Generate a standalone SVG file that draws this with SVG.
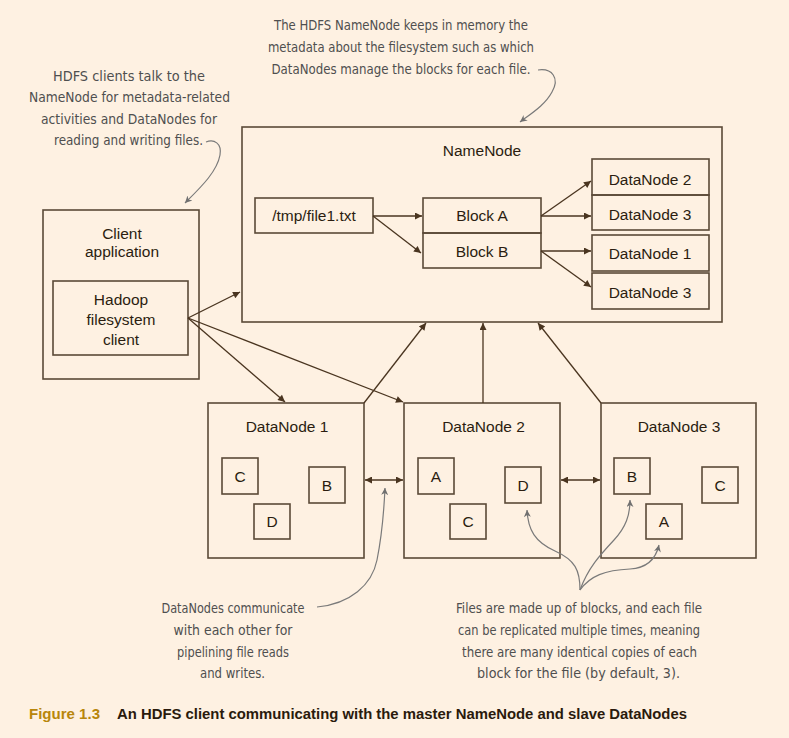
<svg xmlns="http://www.w3.org/2000/svg" width="789" height="738" viewBox="0 0 789 738">
<defs>
<style>
.box{fill:none;stroke:#5b4a38;stroke-width:1.6}
.lbl{font-family:"Liberation Sans",Arial,sans-serif;font-size:15.5px;fill:#2b1d10;text-anchor:middle}
.conn{fill:none;stroke:#4a3520;stroke-width:1.3}
.note{fill:none;stroke:#7a7a7a;stroke-width:1.2}
.hand{font-family:"Liberation Sans Narrow","DejaVu Sans Condensed","Liberation Sans",sans-serif;font-size:13.5px;fill:#4f4f4f;text-anchor:middle}
.cap{font-family:"Liberation Sans",Arial,sans-serif;font-size:14.5px;font-weight:bold}
</style>
<marker id="ah" viewBox="0 0 10 10" refX="10" refY="5" markerWidth="9" markerHeight="7" markerUnits="userSpaceOnUse" orient="auto-start-reverse">
<path d="M0,0 L10,5 L0,10 z" fill="#4a3520"/>
</marker>
<marker id="gh" viewBox="0 0 10 10" refX="10" refY="5" markerWidth="9" markerHeight="7" markerUnits="userSpaceOnUse" orient="auto">
<path d="M0,0 L10,5 L0,10 L3,5 z" fill="#707070"/>
</marker>
</defs>
<rect width="789" height="738" fill="#fef1e2"/>

<g id="namenode">
<rect class="box" x="242" y="127" width="480" height="195"/>
<text class="lbl" x="482" y="156">NameNode</text>
</g>
<g id="file1">
<rect class="box" x="255" y="198" width="118" height="35"/>
<text class="lbl" x="314" y="221">/tmp/file1.txt</text>
</g>
<g id="blockA">
<rect class="box" x="423" y="198" width="118" height="35"/>
<text class="lbl" x="482" y="221">Block A</text>
</g>
<g id="blockB">
<rect class="box" x="423" y="233" width="118" height="35"/>
<text class="lbl" x="482" y="257">Block B</text>
</g>
<g id="nn-dn2">
<rect class="box" x="592" y="159" width="117" height="36"/>
<text class="lbl" x="650" y="184.5">DataNode 2</text>
</g>
<g id="nn-dn3a">
<rect class="box" x="592" y="195" width="117" height="35"/>
<text class="lbl" x="650" y="219.5">DataNode 3</text>
</g>
<g id="nn-dn1">
<rect class="box" x="592" y="235" width="117" height="36"/>
<text class="lbl" x="650" y="259">DataNode 1</text>
</g>
<g id="nn-dn3b">
<rect class="box" x="592" y="273" width="117" height="36"/>
<text class="lbl" x="650" y="297.5">DataNode 3</text>
</g>

<g id="client">
<rect class="box" x="43" y="210" width="156" height="169"/>
<text class="lbl" x="122" y="238.5">Client</text>
<text class="lbl" x="122" y="257">application</text>
</g>
<g id="hadoop-client">
<rect class="box" x="53" y="281" width="135" height="74"/>
<text class="lbl" x="121" y="304.5">Hadoop</text>
<text class="lbl" x="121" y="324.5">filesystem</text>
<text class="lbl" x="121" y="344.5">client</text>
</g>

<g id="datanode1">
<rect class="box" x="208" y="403" width="156" height="155"/>
<text class="lbl" x="287" y="431.5">DataNode 1</text>
<rect class="box" x="222" y="458" width="36" height="36"/>
<text class="lbl" x="240" y="481.5">C</text>
<rect class="box" x="309" y="467" width="36" height="36"/>
<text class="lbl" x="327" y="490.5">B</text>
<rect class="box" x="254" y="504" width="36" height="35"/>
<text class="lbl" x="272" y="527">D</text>
</g>
<g id="datanode2">
<rect class="box" x="404" y="403" width="156" height="155"/>
<text class="lbl" x="483.5" y="431.5">DataNode 2</text>
<rect class="box" x="418" y="458" width="36" height="36"/>
<text class="lbl" x="436" y="481.5">A</text>
<rect class="box" x="505" y="467" width="36" height="36"/>
<text class="lbl" x="523" y="490.5">D</text>
<rect class="box" x="450" y="504" width="36" height="35"/>
<text class="lbl" x="468" y="527">C</text>
</g>
<g id="datanode3">
<rect class="box" x="601" y="403" width="155" height="155"/>
<text class="lbl" x="679" y="431.5">DataNode 3</text>
<rect class="box" x="614" y="458" width="36" height="36"/>
<text class="lbl" x="632" y="481.5">B</text>
<rect class="box" x="702" y="467" width="36" height="36"/>
<text class="lbl" x="720" y="490.5">C</text>
<rect class="box" x="646" y="504" width="36" height="35"/>
<text class="lbl" x="664" y="527">A</text>
</g>

<g id="connectors">
<line class="conn" x1="373" y1="216" x2="422" y2="216" marker-end="url(#ah)"/>
<line class="conn" x1="373" y1="216" x2="421" y2="253" marker-end="url(#ah)"/>
<line class="conn" x1="541" y1="216" x2="591" y2="181" marker-end="url(#ah)"/>
<line class="conn" x1="541" y1="216" x2="591" y2="216" marker-end="url(#ah)"/>
<line class="conn" x1="541" y1="251" x2="591" y2="251" marker-end="url(#ah)"/>
<line class="conn" x1="541" y1="251" x2="591" y2="287" marker-end="url(#ah)"/>
<line class="conn" x1="188" y1="318" x2="240" y2="292" marker-end="url(#ah)"/>
<line class="conn" x1="188" y1="318" x2="285" y2="402" marker-end="url(#ah)"/>
<line class="conn" x1="188" y1="318" x2="403" y2="402" marker-end="url(#ah)"/>
<line class="conn" x1="364" y1="403" x2="426" y2="323" marker-end="url(#ah)"/>
<line class="conn" x1="483" y1="403" x2="483" y2="323" marker-end="url(#ah)"/>
<line class="conn" x1="601" y1="403" x2="538" y2="323" marker-end="url(#ah)"/>
<line class="conn" x1="365" y1="480" x2="403" y2="480" marker-start="url(#ah)" marker-end="url(#ah)"/>
<line class="conn" x1="561" y1="480" x2="600" y2="480" marker-start="url(#ah)" marker-end="url(#ah)"/>
</g>

<g id="annotations">
<path class="note" d="M538,70 C552,68 560,78 552,92 C545,105 532,113 520,122" marker-end="url(#gh)"/>
<path class="note" d="M206,142 C214,139 222,143 220,155 C217,172 200,188 185,203" marker-end="url(#gh)"/>
<path class="note" d="M317,607 C350,604 372,585 377,560 C382,535 384,510 385,488" marker-end="url(#gh)"/>
<path class="note" d="M580,590 C580,570 575,560 555,551 C535,542 528,530 527,510" marker-end="url(#gh)"/>
<path class="note" d="M580,590 C588,568 600,555 614,540 C626,527 630,515 630,500" marker-end="url(#gh)"/>
<path class="note" d="M580,590 C590,576 605,570 630,569 C648,568 656,558 659,545" marker-end="url(#gh)"/>

<text class="hand" x="401" y="30" textLength="254" lengthAdjust="spacingAndGlyphs">The HDFS NameNode keeps in memory the</text>
<text class="hand" x="401" y="52" textLength="266" lengthAdjust="spacingAndGlyphs">metadata about the filesystem such as which</text>
<text class="hand" x="401" y="74" textLength="259" lengthAdjust="spacingAndGlyphs">DataNodes manage the blocks for each file.</text>

<text class="hand" x="129" y="81" textLength="152" lengthAdjust="spacingAndGlyphs">HDFS clients talk to the</text>
<text class="hand" x="129.5" y="102" textLength="201" lengthAdjust="spacingAndGlyphs">NameNode for metadata-related</text>
<text class="hand" x="129" y="124" textLength="176" lengthAdjust="spacingAndGlyphs">activities and DataNodes for</text>
<text class="hand" x="128.5" y="145" textLength="149" lengthAdjust="spacingAndGlyphs">reading and writing files.</text>

<text class="hand" x="233" y="613" textLength="143" lengthAdjust="spacingAndGlyphs">DataNodes communicate</text>
<text class="hand" x="233" y="635" textLength="119" lengthAdjust="spacingAndGlyphs">with each other for</text>
<text class="hand" x="233" y="657" textLength="112" lengthAdjust="spacingAndGlyphs">pipelining file reads</text>
<text class="hand" x="232.5" y="678" textLength="65" lengthAdjust="spacingAndGlyphs">and writes.</text>

<text class="hand" x="579" y="613" textLength="246" lengthAdjust="spacingAndGlyphs">Files are made up of blocks, and each file</text>
<text class="hand" x="579" y="635" textLength="242" lengthAdjust="spacingAndGlyphs">can be replicated multiple times, meaning</text>
<text class="hand" x="579.5" y="657" textLength="235" lengthAdjust="spacingAndGlyphs">there are many identical copies of each</text>
<text class="hand" x="578.5" y="678" textLength="203" lengthAdjust="spacingAndGlyphs">block for the file (by default, 3).</text>
</g>

<g id="caption">
<text class="cap" x="29" y="719" fill="#b8860b" textLength="71" lengthAdjust="spacingAndGlyphs">Figure 1.3</text>
<text class="cap" x="117" y="719" fill="#2a1a0c" textLength="570" lengthAdjust="spacingAndGlyphs">An HDFS client communicating with the master NameNode and slave DataNodes</text>
</g>
</svg>
